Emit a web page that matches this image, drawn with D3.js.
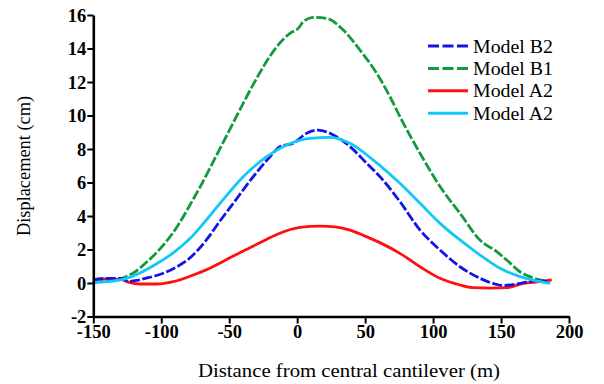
<!DOCTYPE html>
<html>
<head>
<meta charset="utf-8">
<script src="https://cdn.jsdelivr.net/npm/d3@7"></script>
<style>
  html, body { margin: 0; padding: 0; background: #fff; }
  svg { display: block; }
  svg text { font-family: "Liberation Serif", "Times New Roman", Times, serif; fill: #000; }
</style>
</head>
<body>
<svg id="chart" width="604" height="384"></svg>
<script>
// ---- Data ----
const xTicks = [-150, -100, -50, 0, 50, 100, 150, 200];
const yTicks = [-2, 0, 2, 4, 6, 8, 10, 12, 14, 16];

const seriesNames = ["Model B2", "Model B1", "Model A2", "Model A2"];

const xB2 = [-150,-140,-129.2,-124.3,-118,-113.2,-103.4,-91.2,-78.9,-66.5,-56.8,-47,-32.3,-20,-12.7,-2.9,7,15.5,26.6,38.9,51.1,62,75.6,90.4,105.1,119.8,134.5,143,151.7,164,176.2,184];
const yB2 = [0.2,0.28,0.28,0.1,0.15,0.25,0.45,0.85,1.5,2.6,3.7,4.76,6.35,7.54,8.14,8.34,8.94,9.13,8.84,8.14,7.15,6.25,4.86,3.16,1.97,0.97,0.28,0.0,-0.15,-0.02,0.14,0.1];

const xB1 = [-150,-140,-130,-120.6,-110,-98.5,-88,-78.9,-70,-60.5,-50,-39.7,-32,-24.9,-15.1,-5.3,0.8,4.5,11.8,21.7,33.9,46.2,58.5,68.3,75.6,90.4,105.1,119.8,134.5,146.8,154.2,163.9,172,178.7,186];
const yB1 = [0.05,0.12,0.25,0.6,1.3,2.26,3.4,4.66,5.95,7.44,9.1,10.73,11.9,12.91,14.1,14.91,15.2,15.6,15.86,15.8,15.1,13.91,12.52,11.12,9.93,7.74,5.76,4.16,2.56,1.87,1.37,0.67,0.35,0.18,0.08];

const xA2red = [-150,-140,-130,-123,-115.7,-103.4,-91.2,-78.9,-66.6,-51.9,-40,-27.4,-15,2,16.8,28,38.9,50,60.9,75.6,90.4,105.1,119.8,129.6,142,154.2,166.4,178.7,187.3];
const yA2red = [0.22,0.25,0.22,0.02,-0.06,-0.06,0.08,0.4,0.8,1.4,1.9,2.4,2.9,3.32,3.4,3.35,3.16,2.8,2.41,1.77,0.97,0.28,-0.12,-0.28,-0.3,-0.28,-0.02,0.08,0.18];

const xA2cyan = [-150,-140,-128,-115.7,-103.4,-91.2,-78.9,-69,-56.8,-39.7,-22.4,-7.7,9.4,24.1,38.9,56,75.6,90.4,105.1,119.8,134.5,149.2,164,178.7,186];
const yA2cyan = [0.02,0.08,0.22,0.6,1.15,1.8,2.65,3.55,4.75,6.35,7.54,8.24,8.64,8.7,8.34,7.34,5.95,4.76,3.56,2.57,1.67,0.88,0.38,0.08,-0.02];

const xTitle = "Distance from central cantilever (m)";
const yTitle = "Displacement (cm)";

// ---- Layout ----
const FONT = '"Liberation Serif", "Times New Roman", Times, serif';
const svg = d3.select("#chart");
const x = d3.scaleLinear().domain([-150, 200]).range([93.3, 569]);
const y = d3.scaleLinear().domain([-2, 16]).range([316.5, 15]);

const series = [
  { name: seriesNames[1], xs: xB1, ys: yB1, color: "#129a3c", dash: "10,2.5" },
  { name: seriesNames[2], xs: xA2red, ys: yA2red, color: "#ff1010", dash: null },
  { name: seriesNames[0], xs: xB2, ys: yB2, color: "#1414e6", dash: "10,2.5" },
  { name: seriesNames[3], xs: xA2cyan, ys: yA2cyan, color: "#12c8f5", dash: null }
];

const line = d3.line().x(d => x(d[0])).y(d => y(d[1])).curve(d3.curveMonotoneX);

series.forEach(s => {
  const pts = s.xs.map((v, i) => [v, s.ys[i]]);
  svg.append("path")
    .attr("d", line(pts))
    .attr("fill", "none")
    .attr("stroke", s.color)
    .attr("stroke-width", 2.8)
    .attr("stroke-linejoin", "round")
    .attr("stroke-dasharray", s.dash);
});

// ---- Axes ----
const fmt = d => String(d);
const xAxis = d3.axisBottom(x).tickValues(xTicks).tickSize(7).tickSizeOuter(0).tickPadding(2).tickFormat(fmt);
const yAxis = d3.axisLeft(y).tickValues(yTicks).tickSize(6).tickSizeOuter(0).tickPadding(1).tickFormat(fmt);

const gx = svg.append("g").attr("transform", `translate(0,${y(-2)})`).call(xAxis);
const gy = svg.append("g").attr("transform", `translate(${x(-150)},0)`).call(yAxis);

[gx, gy].forEach(g => {
  g.attr("font-family", FONT).attr("font-size", 18.5).attr("font-weight", "bold");
  g.select(".domain").attr("stroke", "#000").attr("stroke-width", 2.6);
  g.selectAll(".tick line").attr("stroke", "#000").attr("stroke-width", 2);
  g.selectAll(".tick text")
    .style("font-family", FONT)
    .style("font-weight", "700")
    .style("font-size", "18.5px")
    .attr("fill", "#000");
});
gx.selectAll(".tick text").attr("dy", "0.7em");
gy.selectAll(".tick text").attr("dy", "0.33em");

// ---- Axis titles ----
svg.append("text")
  .attr("x", 349).attr("y", 376.5)
  .attr("text-anchor", "middle")
  .attr("textLength", 302).attr("lengthAdjust", "spacingAndGlyphs")
  .style("font-family", FONT)
  .style("font-size", "19px")
  .text(xTitle);

svg.append("text")
  .attr("transform", "translate(29.5,166) rotate(-90)")
  .attr("text-anchor", "middle")
  .attr("textLength", 140).attr("lengthAdjust", "spacingAndGlyphs")
  .style("font-family", FONT)
  .style("font-size", "18.5px")
  .text(yTitle);

// ---- Legend ----
const legendItems = [
  { name: seriesNames[0], color: "#1414e6", dash: "11,3.5" },
  { name: seriesNames[1], color: "#129a3c", dash: "11,3.5" },
  { name: seriesNames[2], color: "#ff1010", dash: null },
  { name: seriesNames[3], color: "#12c8f5", dash: null }
];
const lg = svg.append("g");
legendItems.forEach((d, i) => {
  const cy = 46 + i * 22.4;
  lg.append("line")
    .attr("x1", 428).attr("x2", 468).attr("y1", cy).attr("y2", cy)
    .attr("stroke", d.color).attr("stroke-width", 3)
    .attr("stroke-dasharray", d.dash);
  lg.append("text")
    .attr("x", 473).attr("y", cy + 6.5)
    .attr("textLength", 80).attr("lengthAdjust", "spacingAndGlyphs")
    .style("font-family", FONT)
    .style("font-size", "19.5px")
    .text(d.name);
});
</script>
</body>
</html>
